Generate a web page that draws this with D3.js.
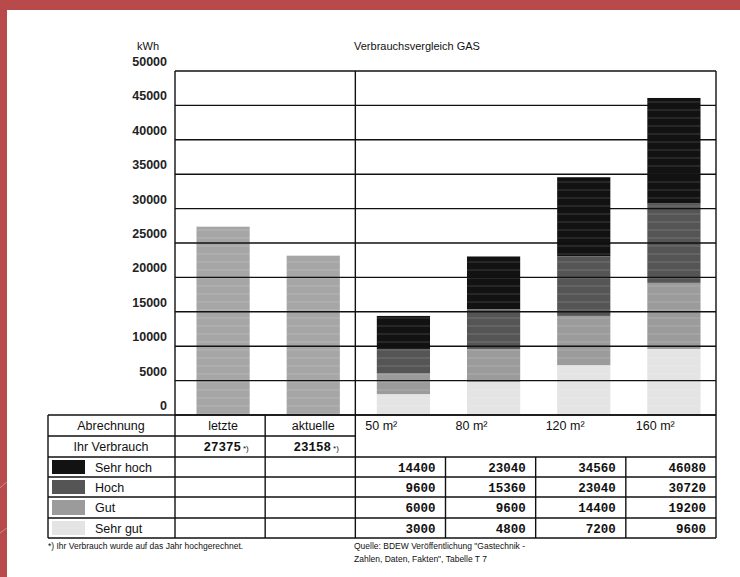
<!DOCTYPE html>
<html>
<head>
<meta charset="utf-8">
<script src="https://cdn.jsdelivr.net/npm/d3@7"></script>
<style>
  html, body { margin: 0; padding: 0; background: #b84a4b; }
  svg { display: block; }
  text { fill: #111; }
</style>
</head>
<body>
<svg id="chart" width="740" height="577"></svg>
<script>
// ---- Data ----
const billing = ["letzte", "aktuelle"];
const usage = [27375, 23158];
const sizes = ["50 m²", "80 m²", "120 m²", "160 m²"];
const levels = ["Sehr hoch", "Hoch", "Gut", "Sehr gut"];
const sehrHoch = [14400, 23040, 34560, 46080];
const hoch = [9600, 15360, 23040, 30720];
const gut = [6000, 9600, 14400, 19200];
const sehrGut = [3000, 4800, 7200, 9600];
const yTicks = [0, 5000, 10000, 15000, 20000, 25000, 30000, 35000, 40000, 45000, 50000];

const levelValues = [sehrHoch, hoch, gut, sehrGut];
const levelColors = ["#121212", "#555555", "#9b9b9b", "#e4e4e4"];
const usageColor = "#a6a6a6";
const SANS = "'Liberation Sans', Arial, sans-serif";
const MONO = "'Liberation Mono', 'Courier New', monospace";

const svg = d3.select("#chart");

// subtle horizontal banding seen in the scanned bars
const pat = svg.append("defs").append("pattern")
  .attr("id", "bands").attr("patternUnits", "userSpaceOnUse")
  .attr("width", 10).attr("height", 8);
pat.append("rect").attr("y", 5).attr("width", 10).attr("height", 2)
  .attr("fill", "#fff").attr("opacity", 0.09);

// page
svg.append("rect").attr("x", 7).attr("y", 10).attr("width", 733).attr("height", 567).attr("fill", "#fff");
svg.append("path").attr("d", "M0,488 Q4,484 7,482").attr("stroke", "#c98a8a").attr("fill", "none");
svg.append("path").attr("d", "M0,533 Q4,530 7,528").attr("stroke", "#c98a8a").attr("fill", "none");

// ---- Scales ----
const cats = billing.concat(sizes);
const x = d3.scaleBand().domain(cats).range([175, 716]).paddingInner(0.41).paddingOuter(0.205);
const step = x.step();
const colLeft = c => 175 + cats.indexOf(c) * step;

const y = d3.scaleLinear().domain([0, 50000]).range([415, 71]);

// ---- Bars: billing ----
const bars = svg.append("g");
bars.selectAll(".usage")
  .data(billing)
  .join("rect")
  .attr("class", "usage")
  .attr("x", d => x(d) + 3)
  .attr("width", x.bandwidth())
  .attr("y", (d, i) => y(usage[i]))
  .attr("height", (d, i) => y(0) - y(usage[i]))
  .attr("fill", usageColor);

// ---- Bars: stacked comparison (table values are cumulative tops) ----
const segs = [];
sizes.forEach((s, i) => {
  levels.forEach((l, k) => {
    const top = levelValues[k][i];
    const bottom = k < levels.length - 1 ? levelValues[k + 1][i] : 0;
    segs.push({ size: s, top, bottom, color: levelColors[k] });
  });
});
bars.selectAll(".seg")
  .data(segs)
  .join("rect")
  .attr("class", "seg")
  .attr("x", d => x(d.size) + 3)
  .attr("width", x.bandwidth())
  .attr("y", d => y(d.top))
  .attr("height", d => y(d.bottom) - y(d.top))
  .attr("fill", d => d.color);

// banding overlay
bars.selectAll("rect").clone().attr("fill", "url(#bands)").attr("class", null);

// ---- Grid ----
svg.append("g").selectAll("line")
  .data(yTicks)
  .join("line")
  .attr("x1", 175).attr("x2", 716)
  .attr("y1", d => y(d)).attr("y2", d => y(d))
  .attr("stroke", "#111").attr("stroke-width", 1.4);

[175, colLeft(sizes[0]), 716].forEach(xv => {
  svg.append("line").attr("x1", xv).attr("x2", xv).attr("y1", y(50000)).attr("y2", y(0))
    .attr("stroke", "#111").attr("stroke-width", 1.4);
});

// y labels
svg.append("g").selectAll("text")
  .data(yTicks)
  .join("text")
  .attr("x", 167)
  .attr("y", d => y(d) - 5)
  .attr("text-anchor", "end")
  .style("font-family", SANS)
  .style("font-size", "12.5px")
  .style("font-weight", "bold")
  .style("fill", "#222")
  .text(d => d);

svg.append("text").attr("x", 148).attr("y", 50).attr("text-anchor", "middle")
  .style("font-family", SANS).style("font-size", "11px").text("kWh");
svg.append("text").attr("x", 354).attr("y", 50)
  .style("font-family", SANS).style("font-size", "11px").text("Verbrauchsvergleich GAS");

// ---- Table ----
const tLeft = 48, tRight = 716;
const rowY = [415, 436, 457, 477, 497, 518, 538];
const mid = (i) => (rowY[i] + rowY[i + 1]) / 2;
const tbl = svg.append("g").attr("stroke", "#111").attr("stroke-width", 1.4);
const hl = (x1, x2, yv) => tbl.append("line").attr("x1", x1).attr("x2", x2).attr("y1", yv).attr("y2", yv);
const vl = (xv, y1, y2) => tbl.append("line").attr("x1", xv).attr("x2", xv).attr("y1", y1).attr("y2", y2);

hl(tLeft, tRight, rowY[0]);
hl(tLeft, colLeft(sizes[0]), rowY[1]);
for (let r = 2; r < rowY.length; r++) hl(tLeft, tRight, rowY[r]);
vl(tLeft, rowY[0], rowY[6]);
vl(tRight, rowY[0], rowY[6]);
billing.forEach(c => vl(colLeft(c), rowY[0], rowY[6]));
vl(colLeft(sizes[0]), rowY[0], rowY[6]);
sizes.slice(1).forEach(c => vl(colLeft(c), rowY[2], rowY[6]));

const label = (txt, xv, yv, anchor, opts = {}) => svg.append("text")
  .attr("x", xv).attr("y", yv).attr("dy", "0.36em")
  .attr("text-anchor", anchor)
  .style("font-size", (opts.size || 12.5) + "px")
  .style("font-weight", opts.weight || "normal")
  .style("font-family", opts.family || SANS)
  .text(txt);

label("Abrechnung", 111, mid(0), "middle");
label("Ihr Verbrauch", 111, mid(1), "middle");
billing.forEach((c, i) => {
  label(c, x(c) + x.bandwidth() / 2 + 3, mid(0), "middle");
  const t = label(usage[i], x(c) + x.bandwidth() / 2 + 6, mid(1), "middle",
    { weight: "bold", family: MONO, size: 12.5 });
  t.append("tspan").style("font-size", "8px").style("font-weight", "normal")
    .style("font-family", SANS).attr("dx", 2).text("*)");
});
sizes.forEach(s => label(s, colLeft(s) + 10, mid(0), "start"));

levels.forEach((l, k) => {
  const r = k + 2;
  svg.append("rect").attr("x", 52).attr("y", rowY[r] + 3).attr("width", 33)
    .attr("height", rowY[r + 1] - rowY[r] - 6).attr("fill", levelColors[k]);
  label(l, 95, mid(r), "start");
  sizes.forEach((s, i) => {
    label(levelValues[k][i], colLeft(s) + step - 10, mid(r), "end",
      { weight: "bold", family: MONO, size: 12.5 });
  });
});

// ---- Notes ----
const note = (txt, xv, yv) => svg.append("text").attr("x", xv).attr("y", yv)
  .style("font-family", SANS).style("font-size", "8.5px").text(txt);
note("*) Ihr Verbrauch wurde auf das Jahr hochgerechnet.", 48, 549);
note("Quelle: BDEW Veröffentlichung \"Gastechnik -", 354, 549);
note("Zahlen, Daten, Fakten\", Tabelle T 7", 354, 562);
</script>
</body>
</html>
